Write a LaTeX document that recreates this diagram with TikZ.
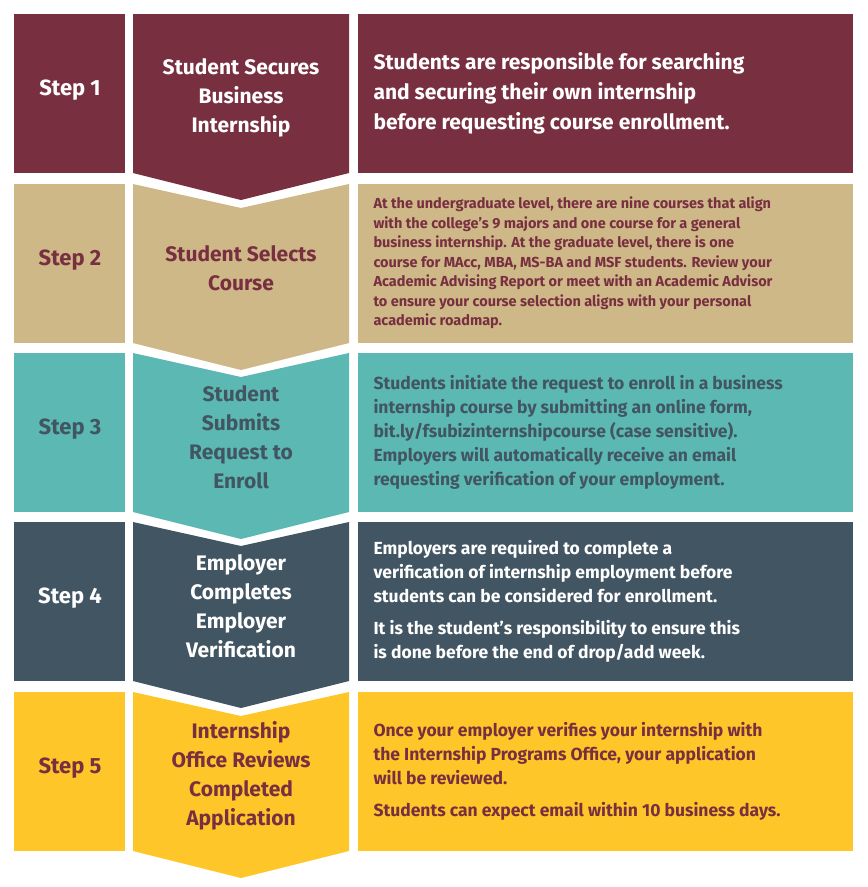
\documentclass[tikz,border=0pt]{standalone}
\usepackage{fontspec}
\setmainfont{Fira Sans}
\definecolor{cA}{HTML}{782F40}
\definecolor{cB}{HTML}{CEB888}
\definecolor{cC}{HTML}{5BB8B2}
\definecolor{cD}{HTML}{425563}
\definecolor{cE}{HTML}{FFC629}
\tikzset{
 lbl/.style={font=\bfseries\fontsize{22}{24}\selectfont,anchor=center},
 mid/.style={font=\bfseries\fontsize{21}{29}\selectfont,align=center,anchor=center},
 desc/.style 2 args={font=\bfseries\fontsize{#1}{#2}\selectfont,align=left,anchor=west},
}
\begin{document}
\begin{tikzpicture}[x=1pt,y=-1pt]
\useasboundingbox (0,0) rectangle (868,887);
\newcommand{\rowdraw}[9]{%
 \fill[#2] (14,#1) rectangle (125,#1+159);
 \fill[#2] (358,#1) rectangle (853,#1+159);
 \ifnum#8=1
  \fill[#2] (133,#1) -- (241,#1+24) -- (349,#1) -- (349,#1+159) -- (241,#1+186) -- (133,#1+159) -- cycle;
 \else
  \fill[#2] (133,#1) -- (349,#1) -- (349,#1+159) -- (241,#1+186) -- (133,#1+159) -- cycle;
 \fi
 \node[lbl,text=#3] (s#4) at (70,#1+76) {Step #4};
 \node[mid,text=#3] (m#4) at (241,#1+84) {#5};
 \node[desc={#6}{#9},text=#3] (d#4) at (370,#1+79) {#7};
}
\rowdraw{14}{cA}{white}{1}{Student Secures\\Business\\Internship}{21}{Students are responsible for searching\\and securing their own internship\\before requesting course enrollment.}{0}{30}
\rowdraw{184}{cB}{cA}{2}{Student Selects\\Course}{14.5}{At the undergraduate level, there are nine courses that align\\with the college's 9 majors and one course for a general\\business internship. At the graduate level, there is one\\course for MAcc, MBA, MS-BA and MSF students. Review your\\Academic Advising Report or meet with an Academic Advisor\\to ensure your course selection aligns with your personal\\academic roadmap.}{1}{19.5}
\rowdraw{353}{cC}{cD}{3}{Student\\Submits\\Request to\\Enroll}{17.5}{Students initiate the request to enroll in a business\\internship course by submitting an online form,\\bit.ly/fsubizinternshipcourse (case sensitive).\\Employers will automatically receive an email\\requesting verification of your employment.}{1}{24}
\rowdraw{522}{cD}{white}{4}{Employer\\Completes\\Employer\\Verification}{17.5}{Employers are required to complete a\\verification of internship employment before\\students can be considered for enrollment.\\[8pt]It is the student's responsibility to ensure this\\is done before the end of drop/add week.}{1}{24}
\rowdraw{692}{cE}{cA}{5}{Internship\\Office Reviews\\Completed\\Application}{17.5}{Once your employer verifies your internship with\\the Internship Programs Office, your application\\will be reviewed.\\[8pt]Students can expect email within 10 business days.}{1}{24}
\end{tikzpicture}
\end{document}
